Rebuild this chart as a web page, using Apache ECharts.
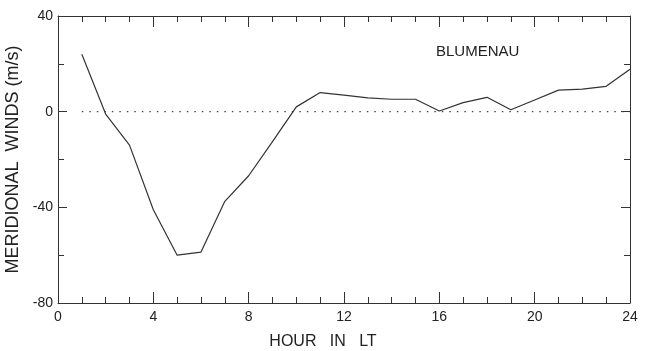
<!DOCTYPE html>
<html>
<head>
<meta charset="utf-8">
<script src="https://cdn.jsdelivr.net/npm/echarts@6/dist/echarts.min.js"></script>
<style>
html,body{margin:0;padding:0;background:#fff;}
#c{width:651px;height:351px;}
</style>
</head>
<body>
<div id="c"></div>
<script>
// Data
var hours = [1,2,3,4,5,6,7,8,9,10,11,12,13,14,15,16,17,18,19,20,21,22,23,24];
var winds = [24,-1,-14,-41,-60,-58.7,-37.5,-26.8,-12.5,2,8,6.9,5.8,5.2,5.2,0.3,3.8,6,0.8,4.9,9,9.4,10.6,17.7];
var zeroLineHours = [1,24];
var xTicks = [0,4,8,12,16,20,24];
var yTicks = [-80,-40,0,40];
var stationLabel = 'BLUMENAU';

var lineData = hours.map(function(h,i){return [h, winds[i]];});
var zeroData = zeroLineHours.map(function(h){return [h, 0];});

var axisColor = '#333';
var font = 'Liberation Sans, Arial, sans-serif';

var chart = echarts.init(document.getElementById('c'));
var baseX = {
  type:'value', min:xTicks[0], max:xTicks[xTicks.length-1], interval:4,
  axisLine:{show:true, onZero:false, lineStyle:{color:axisColor,width:1}},
  axisTick:{show:true, inside:true, length:11, lineStyle:{color:axisColor, width:1}},
  minorTick:{show:true, splitNumber:4, length:6, lineStyle:{color:axisColor, width:1}},
  splitLine:{show:false}
};
var baseY = {
  type:'value', min:yTicks[0], max:yTicks[yTicks.length-1], interval:40,
  axisLine:{show:true, onZero:false, lineStyle:{color:axisColor,width:1}},
  axisTick:{show:true, inside:true, length:9, lineStyle:{color:axisColor, width:1}},
  minorTick:{show:true, splitNumber:2, length:6, lineStyle:{color:axisColor, width:1}},
  splitLine:{show:false}
};
chart.setOption({
  animation:false,
  backgroundColor:'#fff',
  grid:{left:58, right:21, top:16, bottom:48, containLabel:false, outerBoundsMode:'none'},
  xAxis:[
    Object.assign({}, baseX, {
      position:'bottom',
      axisLabel:{show:true, margin:7, color:'#222', fontSize:14, fontFamily:font},
      name:'HOUR   IN   LT', nameLocation:'middle', nameGap:31,
      nameTextStyle:{color:'#222', fontSize:16, fontFamily:font, padding:[0,42,0,0]}
    }),
    Object.assign({}, baseX, {position:'top', axisLabel:{show:false}})
  ],
  yAxis:[
    Object.assign({}, baseY, {
      position:'left',
      axisLabel:{show:true, margin:5, color:'#222', fontSize:14, fontFamily:font},
      name:'MERIDIONAL  WINDS (m/s)', nameLocation:'middle', nameGap:27,
      nameTextStyle:{color:'#222', fontSize:18, fontFamily:font}
    }),
    Object.assign({}, baseY, {position:'right', axisLabel:{show:false}})
  ],
  graphic:[{
    type:'text', left:436, top:44,
    style:{text:stationLabel, fill:'#222', fontSize:15, fontFamily:font}
  }],
  series:[
    {
      type:'line', data:zeroData, symbol:'none', silent:true,
      lineStyle:{color:'#444', width:1.3, type:[1.5,6]}
    },
    {
      type:'line', data:lineData, symbol:'none',
      lineStyle:{color:'#333', width:1.2}
    }
  ]
});
</script>
</body>
</html>
